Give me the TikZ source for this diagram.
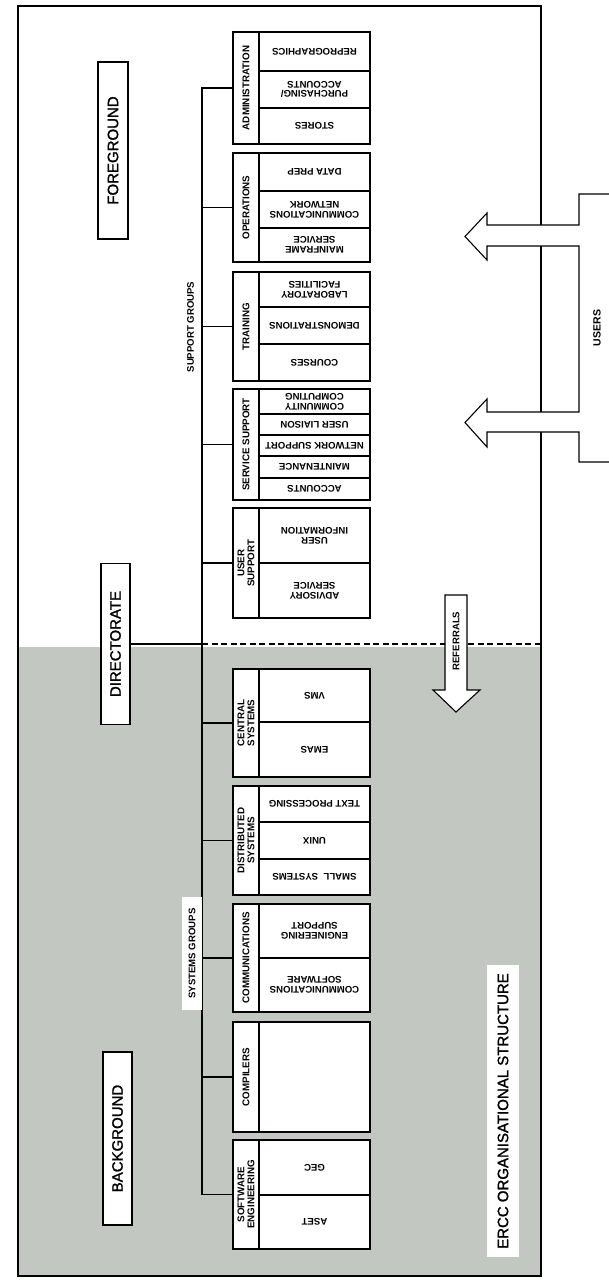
\documentclass[tikz,border=0pt]{standalone}
\usepackage{fontspec}
\setmainfont{Liberation Sans}
\newfontfamily\bigfont{Liberation Sans}[FakeBold=1.5]
\definecolor{bgshade}{RGB}{194,199,194}
\tikzset{
  grp/.style={draw, line width=1.4pt, fill=white, rotate=90, minimum height=26pt, inner sep=0pt, align=center, font=\bfseries\fontsize{9.8}{10}\selectfont},
  itm/.style={draw, line width=1.4pt, fill=white, rotate=180, minimum width=111pt, inner sep=0pt, align=center, font=\bfseries\fontsize{9.6}{9.8}\selectfont},
  biglab/.style={draw, line width=1.3pt, fill=white, rotate=90, inner sep=0pt, font=\bigfont\fontsize{15}{15}\selectfont},
  smlab/.style={rotate=90, inner sep=0pt, font=\bfseries\fontsize{9.6}{10}\selectfont},
  conn/.style={line width=1.1pt},
  arrowshape/.style={line width=1.1pt, fill=white, line join=miter},
}
\begin{document}
\begin{tikzpicture}[x=1pt, y=-1pt]
\useasboundingbox (0,0) rectangle (609,1280);
% shaded background half
\fill[bgshade] (18,647) rectangle (541,1276);
% frame
\draw[line width=1.1pt] (18,6) rectangle (541,1276);

% big labels
\node[biglab, minimum width=177pt, minimum height=30pt] (fg) at (113,150.5) {FOREGROUND};
\node[biglab, minimum width=161pt, minimum height=29pt] (dir) at (115.5,644) {DIRECTORATE};
\node[biglab, minimum width=173pt, minimum height=29pt] (bg) at (117.5,1138.5) {BACKGROUND};

% directorate line
\coordinate (dj) at (202,644);
\coordinate (dr) at (541,644);
\draw[conn] (dir.south) -- (dj);
\draw[line width=1.4pt, dash pattern=on 6pt off 3.5pt] (dj) -- (dr);

% ---------- support groups ----------
\node[grp, minimum width=112pt] (g1) at (246,88) {ADMINISTRATION};
\node[itm, minimum height=39pt] (g1a) at (314.5,51.5) {REPROGRAPHICS};
\node[itm, minimum height=37pt] (g1b) at (314.5,89.5) {PURCHASING/\\ACCOUNTS};
\node[itm, minimum height=36pt] (g1c) at (314.5,126) {STORES};

\node[grp, minimum width=109pt] (g2) at (246,207.5) {OPERATIONS};
\node[itm, minimum height=38pt] (g2a) at (314.5,172) {DATA PREP};
\node[itm, minimum height=37pt] (g2b) at (314.5,209.5) {COMMUNICATIONS\\NETWORK};
\node[itm, minimum height=34pt] (g2c) at (314.5,245) {MAINFRAME\\SERVICE};

\node[grp, minimum width=109pt] (g3) at (246,326.5) {TRAINING};
\node[itm, minimum height=35pt] (g3a) at (314.5,289.5) {LABORATORY\\FACILITIES};
\node[itm, minimum height=37pt] (g3b) at (314.5,325.5) {DEMONSTRATIONS};
\node[itm, minimum height=37pt] (g3c) at (314.5,362.5) {COURSES};

\node[grp, minimum width=111pt] (g4) at (246,444.5) {SERVICE SUPPORT};
\node[itm, minimum height=25pt] (g4a) at (314.5,401.5) {COMMUNITY\\COMPUTING};
\node[itm, minimum height=21pt] (g4b) at (314.5,424.5) {USER LIAISON};
\node[itm, minimum height=21pt] (g4c) at (314.5,445.5) {NETWORK SUPPORT};
\node[itm, minimum height=22pt] (g4d) at (314.5,467) {MAINTENANCE};
\node[itm, minimum height=22pt] (g4e) at (314.5,489) {ACCOUNTS};

\node[grp, minimum width=110pt] (g5) at (246,563) {USER\\SUPPORT};
\node[itm, minimum height=55pt] (g5a) at (314.5,535.5) {USER\\INFORMATION};
\node[itm, minimum height=55pt] (g5b) at (314.5,590.5) {ADVISORY\\SERVICE};

% ---------- systems groups ----------
\node[grp, minimum width=108pt] (g6) at (246,723) {CENTRAL\\SYSTEMS};
\node[itm, minimum height=53pt] (g6a) at (314.5,695.5) {VMS};
\node[itm, minimum height=55pt] (g6b) at (314.5,749.5) {EMAS};

\node[grp, minimum width=109pt] (g7) at (246,840.5) {DISTRIBUTED\\SYSTEMS};
\node[itm, minimum height=36pt] (g7a) at (314.5,804) {TEXT PROCESSING};
\node[itm, minimum height=37pt] (g7b) at (314.5,840.5) {UNIX};
\node[itm, minimum height=36pt] (g7c) at (314.5,877) {SMALL~~SYSTEMS};

\node[grp, minimum width=108pt] (g8) at (246,958) {COMMUNICATIONS};
\node[itm, minimum height=54pt] (g8a) at (314.5,931) {ENGINEERING\\SUPPORT};
\node[itm, minimum height=54pt] (g8b) at (314.5,985) {COMMUNICATIONS\\SOFTWARE};

\node[grp, minimum width=110pt] (g9) at (246,1077) {COMPILERS};
\node[itm, minimum height=110pt] (g9a) at (314.5,1077) {};

\node[grp, minimum width=109pt] (g10) at (246,1194.5) {SOFTWARE\\ENGINEERING};
\node[itm, minimum height=55pt] (g10a) at (314.5,1167.5) {GEC};
\node[itm, minimum height=54pt] (g10b) at (314.5,1222) {ASET};

% trunk and branches
\coordinate (ttop) at (202,88);
\coordinate (tbot) at (202,1194.5);
\draw[conn] (g1.north) -- (ttop) -- (tbot) -- (g10.north);
\foreach \g/\yy in {g2/207.5, g3/326.5, g4/444.5, g5/563, g6/723, g7/840.5, g8/958, g9/1077}{
  \draw[conn] (202,\yy) -- (\g.north);
}

% group captions
\node[smlab] (suplab) at (190.5,327) {SUPPORT GROUPS};
\node[smlab, fill=white, minimum width=113pt, minimum height=20pt] (syslab) at (192,953.5) {SYSTEMS GROUPS};

% title
\node[rotate=90, fill=white, inner sep=0pt, minimum width=292pt, minimum height=32pt, font=\bigfont\fontsize{15}{15}\selectfont] (title) at (503,1111) {ERCC ORGANISATIONAL STRUCTURE};

% referrals arrow
\draw[arrowshape] (445,595) -- (467,595) -- (467,690) -- (480,690) -- (456,712) -- (433,690) -- (445,690) -- cycle;
\node[smlab] (reflab) at (456,641) {REFERRALS};

% users arrows
\draw[arrowshape] (609,194) -- (579,194) -- (579,225) -- (487,225) -- (487,213) -- (465,236.5) -- (487,260) -- (487,246) -- (579,246) -- (579,412) -- (487,412) -- (487,399) -- (465,422.5) -- (487,447) -- (487,432) -- (579,432) -- (579,462) -- (609,462);
\node[smlab, font=\bfseries\fontsize{10.5}{11}\selectfont] (usrlab) at (597,328) {USERS};
\end{tikzpicture}
\end{document}
